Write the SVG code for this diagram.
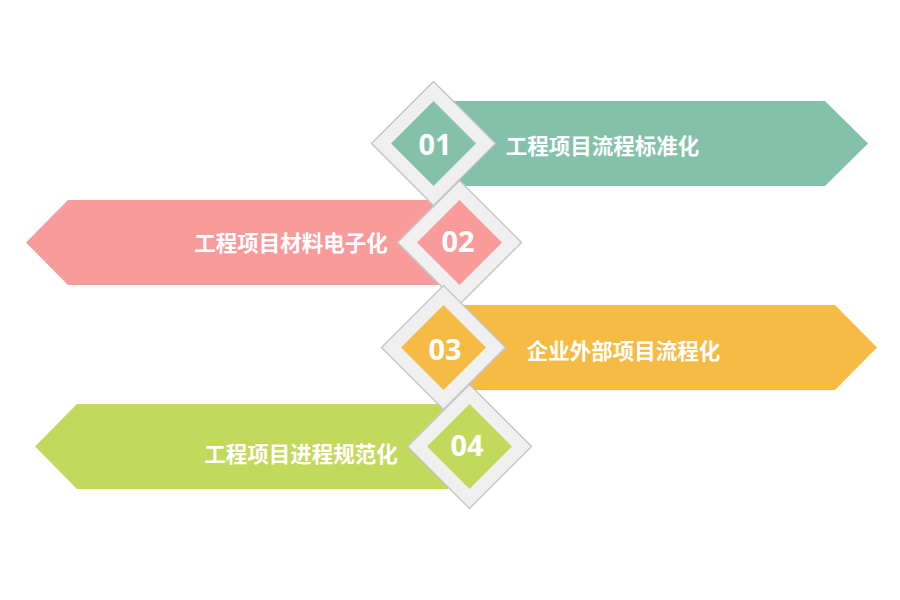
<svg xmlns="http://www.w3.org/2000/svg" width="900" height="600" viewBox="0 0 900 600">
  <style>
    .frame { fill: #f0f0f0; stroke: #c6c6c6; stroke-width: 1.5; }
    .label { font-family: "Noto Sans CJK SC", "Noto Sans", sans-serif; font-weight: bold; font-size: 21.5px; fill: #ffffff; text-anchor: middle; dominant-baseline: central; }
    .num { font-family: "Noto Sans", "Open Sans", sans-serif; font-weight: bold; font-size: 29px; fill: #ffffff; text-anchor: middle; }
    .c1 { fill: #84c1ab; }
    .c2 { fill: #f99b9b; }
    .c3 { fill: #f6bb45; }
    .c4 { fill: #c3d95c; }
  </style>
  <rect width="900" height="600" fill="#ffffff"/>
  <g id="banners">
    <polygon class="c1" points="452,101 825,101 868,143.5 825,186 452,186"/>
    <polygon class="c2" points="440,200 68,200 26,242.5 68,285 440,285"/>
    <polygon class="c3" points="462,305 835,305 877,347.5 835,390 462,390"/>
    <polygon class="c4" points="448,404 77,404 35,446.5 77,489 448,489"/>
  </g>
  <g id="node1">
    <polygon class="frame" points="433.5,81.5 495.5,143.5 433.5,205.5 371.5,143.5"/>
    <polygon class="c1" points="433.5,101 476,143.5 433.5,186 391,143.5"/>
    <text class="num" x="435" y="155">01</text>
    <text class="label" x="602.5" y="144">工程项目流程标准化</text>
  </g>
  <g id="node2">
    <polygon class="frame" points="459.5,180.5 521.5,242.5 459.5,304.5 397.5,242.5"/>
    <polygon class="c2" points="459.5,200 502,242.5 459.5,285 417,242.5"/>
    <text class="num" x="458" y="252">02</text>
    <text class="label" x="291" y="241">工程项目材料电子化</text>
  </g>
  <g id="node3">
    <polygon class="frame" points="443.5,285.5 505.5,347.5 443.5,409.5 381.5,347.5"/>
    <polygon class="c3" points="443.5,305 486,347.5 443.5,390 401,347.5"/>
    <text class="num" x="445" y="360">03</text>
    <text class="label" x="623.5" y="349">企业外部项目流程化</text>
  </g>
  <g id="node4">
    <polygon class="frame" points="469.5,384.5 531.5,446.5 469.5,508.5 407.5,446.5"/>
    <polygon class="c4" points="469.5,404 512,446.5 469.5,489 427,446.5"/>
    <text class="num" x="467" y="456">04</text>
    <text class="label" x="301" y="452">工程项目进程规范化</text>
  </g>
  <g id="connectors"/>
</svg>
